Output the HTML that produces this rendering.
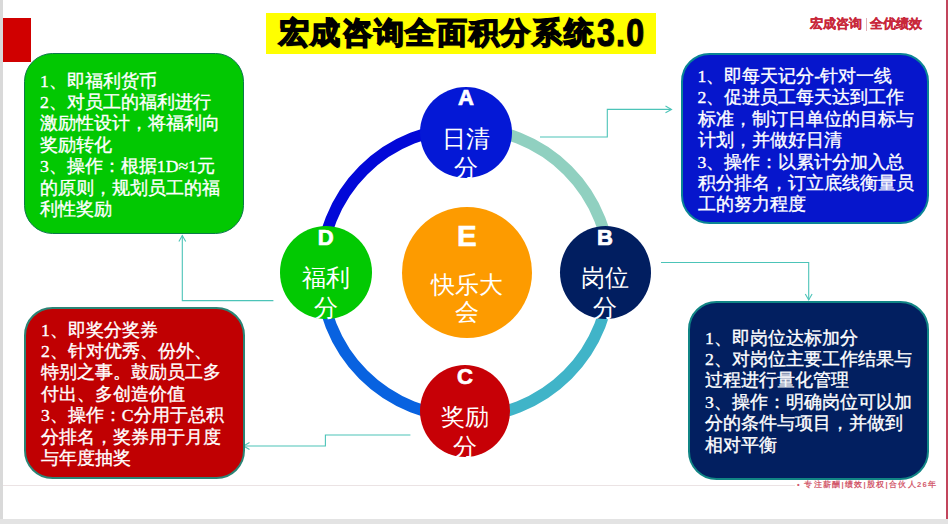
<!DOCTYPE html>
<html><head><meta charset="utf-8">
<style>
html,body{margin:0;padding:0;}
body{width:948px;height:524px;position:relative;overflow:hidden;background:#fff;font-family:"Liberation Sans",sans-serif;}
.abs{position:absolute;}
#lstrip{left:0;top:0;width:2.5px;height:524px;background:#d9d9d9;}
#bstrip{left:0;top:519px;width:948px;height:5px;background:#e3e3e3;}
#rline{left:946px;top:0;width:2px;height:519px;background:#c2455c;}
#redmark{left:3px;top:18px;width:28px;height:43.5px;background:#d00000;}
#title{left:266px;top:12.5px;width:390px;height:41.5px;background:#ffff00;}
#title span{position:absolute;left:12.5px;top:2.5px;font-size:30px;font-weight:bold;color:#000;white-space:nowrap;letter-spacing:1.7px;line-height:36px;-webkit-text-stroke:1.5px #000;text-shadow:1px 1px 1px rgba(0,0,0,0.3);}
#logo{left:810px;top:14px;width:120px;height:20px;font-size:12.8px;font-weight:bold;color:#c8283a;white-space:nowrap;line-height:20px;-webkit-text-stroke:0.3px #c8283a;}
.box{position:absolute;box-sizing:border-box;border-radius:28.5px;border:1.7px solid #0b7a4a;}
.txt{position:absolute;font-family:"Liberation Serif",serif;font-weight:normal;-webkit-text-stroke:0.35px #fff;color:#fff;font-size:17.7px;line-height:21.4px;white-space:nowrap;}
.circ{position:absolute;border-radius:50%;color:#fff;text-align:center;}
.circ .l{position:absolute;left:0;width:100%;font-weight:bold;font-size:22px;line-height:20px;-webkit-text-stroke:0.7px #fff;}
.circ .t{position:absolute;left:0;width:100%;font-size:23.5px;line-height:29.5px;}
#footer{left:797px;top:480px;font-size:7.6px;font-weight:bold;color:#d25a6c;white-space:nowrap;letter-spacing:1.3px;line-height:10px;}
#hline{left:3px;top:485px;width:792px;height:1px;background:#ebe3e4;}
</style></head>
<body>
<div id="lstrip" class="abs"></div>
<div id="bstrip" class="abs"></div>
<div id="rline" class="abs"></div>
<div id="hline" class="abs"></div>
<div id="redmark" class="abs"></div>
<div id="title" class="abs"><span>宏成咨询全面积分系统</span><span style="left:331px;top:-2px;font-size:38px;line-height:44px;letter-spacing:1.6px;-webkit-text-stroke:1.1px #000;transform:scaleX(0.84);transform-origin:0 0;">3.0</span></div>
<div id="logo" class="abs"><span style="position:absolute;left:0;top:0;">宏成咨询</span><span style="position:absolute;left:55.5px;top:4px;width:1px;height:13px;background:#e0b0b8;"></span><span style="position:absolute;left:60px;top:0;">全优绩效</span></div>

<!-- ring -->
<svg class="abs" style="left:0;top:0" width="948" height="524" viewBox="0 0 948 524">
  <g fill="none" stroke-width="11.5">
    <path d="M465.5 128 A144.5 144.5 0 0 1 610 272.5" stroke="#90d0c0"/>
    <path d="M610 272.5 A144.5 144.5 0 0 1 465.5 417" stroke="#40b4c8"/>
    <path d="M465.5 417 A144.5 144.5 0 0 1 321 272.5" stroke="#0862e0"/>
    <path d="M321 272.5 A144.5 144.5 0 0 1 465.5 128" stroke="#0208d8"/>
  </g>
  <g fill="none" stroke="#4cc4b8" stroke-width="1.1">
    <polyline points="540,137 607.3,137 607.3,109.4 671,109.4"/>
    <polyline points="665.5,106 671.5,109.4 665.5,112.8"/>
    <polyline points="661,262.5 808.7,262.5 808.7,300"/>
    <polyline points="805.3,294 808.7,300 812.1,294"/>
    <polyline points="410.4,435 325.4,435 325.4,446 243.5,446"/>
    <polyline points="249.5,442.6 243.5,446 249.5,449.4"/>
    <polyline points="273.4,300.6 182.3,300.6 182.3,235.5"/>
    <polyline points="178.9,241.5 182.3,235.5 185.7,241.5"/>
  </g>
</svg>

<!-- boxes -->
<div class="box" style="left:23.5px;top:52.5px;width:220.5px;height:181.5px;background:#02c802;"></div>
<div class="txt" style="left:40px;top:70.5px;">1、即福利货币<br>2、对员工的福利进行<br>激励性设计，将福利向<br>奖励转化<br>3、操作：根据1D≈1元<br>的原则，规划员工的福<br>利性奖励</div>

<div class="box" style="left:680.5px;top:52.5px;width:248.5px;height:171.5px;background:#0616cc;border-color:#0b8595;border-width:2px;"></div>
<div class="txt" style="left:697.5px;top:66px;">1、即每天记分-针对一线<br>2、促进员工每天达到工作<br>标准，制订日单位的目标与<br>计划，并做好日清<br>3、操作：以累计分加入总<br>积分排名，订立底线衡量员<br>工的努力程度</div>

<div class="box" style="left:688px;top:301px;width:240.5px;height:178.5px;background:#021f60;border-color:#118585;border-width:2px;"></div>
<div class="txt" style="left:705px;top:327.5px;">1、即岗位达标加分<br>2、对岗位主要工作结果与<br>过程进行量化管理<br>3、操作：明确岗位可以加<br>分的条件与项目，并做到<br>相对平衡</div>

<div class="box" style="left:23.5px;top:307px;width:221px;height:172px;background:#c00002;border-color:#2a8475;border-width:2px;"></div>
<div class="txt" style="left:41px;top:319.5px;">1、即奖分奖券<br>2、针对优秀、份外、<br>特别之事。鼓励员工多<br>付出、多创造价值<br>3、操作：C分用于总积<br>分排名，奖券用于月度<br>与年度抽奖</div>

<!-- circles -->
<div class="circ" style="left:420px;top:87px;width:92px;height:91px;background:#0418d6;">
  <div class="l" style="top:1px;">A</div><div class="t" style="top:37.5px;">日清<br>分</div>
</div>
<div class="circ" style="left:559.5px;top:226px;width:91px;height:93px;background:#011e60;">
  <div class="l" style="top:2px;">B</div><div class="t" style="top:38px;">岗位<br>分</div>
</div>
<div class="circ" style="left:420px;top:365px;width:90px;height:92px;background:#c70006;">
  <div class="l" style="top:2px;">C</div><div class="t" style="top:38px;">奖励<br>分</div>
</div>
<div class="circ" style="left:279.5px;top:226px;width:92.5px;height:93px;background:#02c902;">
  <div class="l" style="top:2px;">D</div><div class="t" style="top:38px;">福利<br>分</div>
</div>
<div class="circ" style="left:401.5px;top:206.5px;width:130.5px;height:131.5px;background:#fd9b00;">
  <div class="l" style="top:15px;font-size:29.5px;line-height:28px;-webkit-text-stroke:0.6px #fff;">E</div><div class="t" style="top:65.8px;line-height:27px;">快乐大<br>会</div>
</div>

<div id="footer" class="abs">• 专注薪酬|绩效|股权|合伙人26年</div>
</body></html>
